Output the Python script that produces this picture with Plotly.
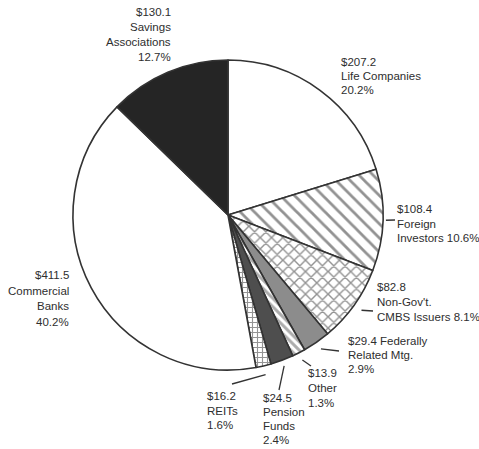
import math
import plotly.graph_objects as go

# ---------------- data ----------------
categories = ["Life Companies", "Foreign Investors", "Non-Gov't. CMBS Issuers",
              "Federally Related Mtg.", "Other", "Pension Funds", "REITs",
              "Commercial Banks", "Savings Associations"]
amounts = [207.2, 108.4, 82.8, 29.4, 13.9, 24.5, 16.2, 411.5, 130.1]
percents = [20.2, 10.6, 8.1, 2.9, 1.3, 2.4, 1.6, 40.2, 12.7]
label_templates = [
    ["${a}", "Life Companies", "{p}%"],
    ["${a}", "Foreign", "Investors {p}%"],
    ["${a}", "Non-Gov't.", "CMBS Issuers {p}%"],
    ["${a} Federally", "Related Mtg.", "{p}%"],
    ["${a}", "Other", "{p}%"],
    ["${a}", "Pension", "Funds", "{p}%"],
    ["${a}", "REITs", "{p}%"],
    ["${a}", "Commercial", "Banks", "{p}%"],
    ["${a}", "Savings", "Associations", "{p}%"],
]

# ---------------- styling ----------------
W, H = 479, 449
CX, CY, R = 228, 215, 155
colors = ["#ffffff", "#ffffff", "#ffffff", "#8c8c8c", "#ffffff", "#4e4e4e",
          "#ffffff", "#ffffff", "#252525"]
pat_shape = ["", "\\", "x", "", "\\", "", "+", "", ""]
pat_fg = ["#333", "#262626", "#262626", "#333", "#5a5a5a", "#333", "#2a2a2a", "#333", "#333"]
pat_size = [8, 10, 8, 8, 6, 8, 5, 8, 8]
pat_sol = [0.2, 0.28, 0.32, 0.2, 0.5, 0.2, 0.4, 0.2, 0.2]

# label placement (pixels): x, center y of first line, line step, xanchor
label_pos = [
    (340, 62, 14.0, "left"),
    (396, 209, 14.5, "left"),
    (376, 287, 15.0, "left"),
    (347, 341, 14.0, "left"),
    (307, 373, 15.0, "left"),
    (262, 398, 14.0, "left"),
    (206, 396, 14.5, "left"),
    (70, 275, 15.5, "right"),
    (172, 12, 15.0, "right"),
]
# leader line end points (pixels), None = no leader
leader_end = [None, (395, 220), (373, 311), (339, 351), (311, 366),
              (279, 390), (232, 384), None, None]
leader_start_r = [None, R + 3, R + 9, R + 8, R + 8, R + 6, R + 9, None, None]

FONT = "Liberation Sans, Arial, sans-serif"
FSIZE = 11.5

fig = go.Figure()
fig.add_trace(go.Pie(
    labels=categories,
    values=amounts,
    sort=False,
    direction="clockwise",
    rotation=0,
    textinfo="none",
    hoverinfo="label+value+percent",
    showlegend=False,
    marker=dict(
        colors=colors,
        line=dict(color="#333333", width=1.6),
        pattern=dict(shape=pat_shape, fgcolor=pat_fg, bgcolor=colors,
                     size=pat_size, solidity=pat_sol, fillmode="overlay"),
    ),
    domain=dict(x=[(CX - R) / W, (CX + R) / W],
                y=[1 - (CY + R) / H, 1 - (CY - R) / H]),
))

total = sum(amounts)
cum = 0.0
annotations = []
shapes = []
for i, v in enumerate(amounts):
    mid = (cum + v / 2) / total
    cum += v
    ang = 2 * math.pi * mid
    x, y0, step, xa = label_pos[i]
    for k, line in enumerate(label_templates[i]):
        txt = line.format(a=f"{v:.1f}", p=f"{percents[i]:.1f}")
        annotations.append(dict(
            x=x / W, y=1 - (y0 + k * step) / H, xref="paper", yref="paper",
            xanchor=xa, yanchor="middle", align=xa, showarrow=False,
            text=txt, font=dict(family=FONT, size=FSIZE, color="#2e2e2e"),
            borderpad=0,
        ))
    if leader_end[i] is not None:
        rs = leader_start_r[i]
        sx = CX + rs * math.sin(ang)
        sy = CY - rs * math.cos(ang)
        ex, ey = leader_end[i]
        shapes.append(dict(type="line", xref="paper", yref="paper",
                           x0=sx / W, y0=1 - sy / H, x1=ex / W, y1=1 - ey / H,
                           line=dict(color="#333333", width=1.3)))

fig.update_layout(
    width=W, height=H,
    margin=dict(l=0, r=0, t=0, b=0),
    paper_bgcolor="white", plot_bgcolor="white",
    annotations=annotations, shapes=shapes,
)
fig.write_html("out.html")
